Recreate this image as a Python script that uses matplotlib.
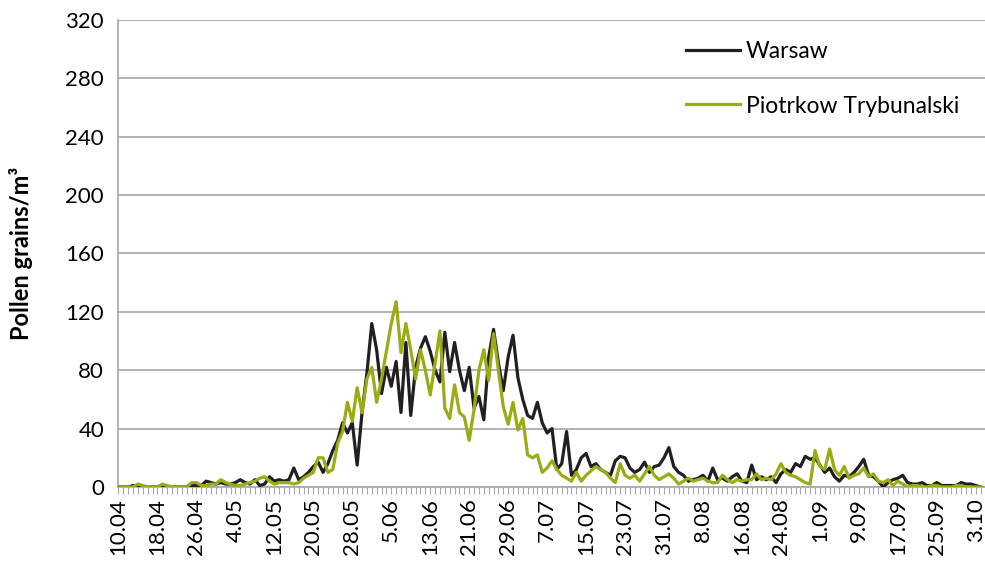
import numpy as np
import matplotlib
matplotlib.use("Agg")
import matplotlib.pyplot as plt

plt.rcParams['font.family'] = ['Lato', 'DejaVu Sans']

# daily pollen counts, 10.04 - 4.10
warsaw = [0, 0, 0, 1, 0, 0, 0, 0, 0, 1, 0, 0, 0, 0, 0, 1, 1,
          1, 4, 3, 2, 3, 2, 2, 3, 5, 3, 2, 5, 1, 2, 7, 4, 5, 4, 5, 13, 5,
          7, 10, 14, 17, 10, 16, 25, 32, 44, 37, 44, 15,
          51, 78, 112, 94, 64, 82, 69, 86, 51, 99, 49, 82, 95, 103, 93, 80, 72, 106, 79, 99,
          80, 66, 82, 54, 62, 46, 89, 108, 85, 66, 89, 104, 75, 60, 49, 47, 58, 44, 37, 40,
          12, 16, 38, 8, 12, 20, 23, 14, 16, 12, 10, 8, 18, 21, 20, 13, 10, 12, 17, 10,
          14, 15, 20, 27, 14, 10, 8, 4, 5, 6, 8, 4, 13, 5, 6, 4, 7, 9, 4, 3,
          15, 5, 7, 5, 7, 3, 9, 12, 10, 16, 14, 21, 19, 20, 15, 10, 13, 7, 4, 8,
          7, 10, 14, 19, 8, 7, 4, 0, 3, 5, 6, 8, 3, 2, 2, 3, 1, 1, 3, 1, 1, 1, 1, 3, 2, 2, 1, 0]

piotrkow = [0, 0, 0, 0, 2, 1, 0, 0, 0, 2, 1, 0, 0, 0, 0, 3, 3,
            1, 1, 2, 2, 5, 3, 2, 1, 1, 2, 3, 4, 6, 7, 4, 2, 3, 3, 3, 2, 3,
            6, 8, 10, 20, 20, 10, 12, 30, 38, 58, 45, 68,
            51, 74, 82, 58, 74, 93, 112, 127, 92, 112, 94, 74, 94, 80, 63, 85, 107, 54, 47, 70,
            51, 48, 32, 53, 80, 94, 73, 105, 80, 55, 43, 58, 39, 47, 22, 20, 22, 10, 13, 18,
            12, 8, 6, 4, 10, 4, 8, 11, 14, 12, 10, 6, 3, 16, 8, 6, 8, 4, 9, 14,
            8, 5, 7, 9, 6, 2, 4, 6, 4, 5, 6, 4, 3, 3, 8, 5, 3, 5, 4, 5,
            5, 9, 5, 6, 5, 9, 16, 10, 8, 7, 5, 3, 2, 25, 14, 12, 26, 12, 8, 14,
            6, 8, 9, 13, 7, 9, 4, 3, 5, 1, 4, 2, 0, 1, 1, 0, 0, 1, 1, 0, 0, 0, 1, 1, 0, 0, 0, 0]

date_labels = ['10.04', '18.04', '26.04', '4.05', '12.05', '20.05', '28.05', '5.06',
               '13.06', '21.06', '29.06', '7.07', '15.07', '23.07', '31.07', '8.08',
               '16.08', '24.08', '1.09', '9.09', '17.09', '25.09', '3.10']

days = np.arange(len(warsaw))
grid_col = '#a6a6a6'

fig = plt.figure(figsize=(9.85, 5.74), dpi=100)
ax = fig.add_axes([0.1198, 0.1516, 0.8802, 0.8136])

ax.plot(days, warsaw, color='#231f20', lw=2.3, label='Warsaw', zorder=3)
ax.plot(days, piotrkow, color='#9aab14', lw=2.3, label='Piotrkow Trybunalski', zorder=4)

ax.set_xlim(-0.1, 177.9)
ax.set_ylim(0, 320)
ax.set_yticks(np.arange(0, 321, 40))
ax.yaxis.grid(True, color=grid_col, lw=1.2)
ax.set_axisbelow(True)
ax.tick_params(axis='y', length=0, labelsize=16, pad=10, colors='#000000')

ax.set_xticks(np.arange(0, 177, 8))
ax.set_xticklabels(date_labels, rotation=90, fontsize=16)
ax.set_xticks(days, minor=True)
ax.tick_params(axis='x', which='both', direction='out', length=5, width=0.8,
               color=grid_col, pad=3)

for s in ['top', 'right']:
    ax.spines[s].set_visible(False)
ax.spines['left'].set_color(grid_col)
ax.spines['bottom'].set_color(grid_col)
ax.spines['left'].set_linewidth(1.2)
ax.spines['bottom'].set_linewidth(1.2)

ax.set_ylabel('Pollen grains/m³', fontsize=17, fontweight='bold')
ax.yaxis.set_label_coords(-0.098, 0.5)

ax.legend(loc='upper left', bbox_to_anchor=(0.631, 1.0), frameon=False,
          fontsize=16.5, handlelength=2.36, handletextpad=0.26, labelspacing=1.48)

fig.savefig('out.png', dpi=100)
